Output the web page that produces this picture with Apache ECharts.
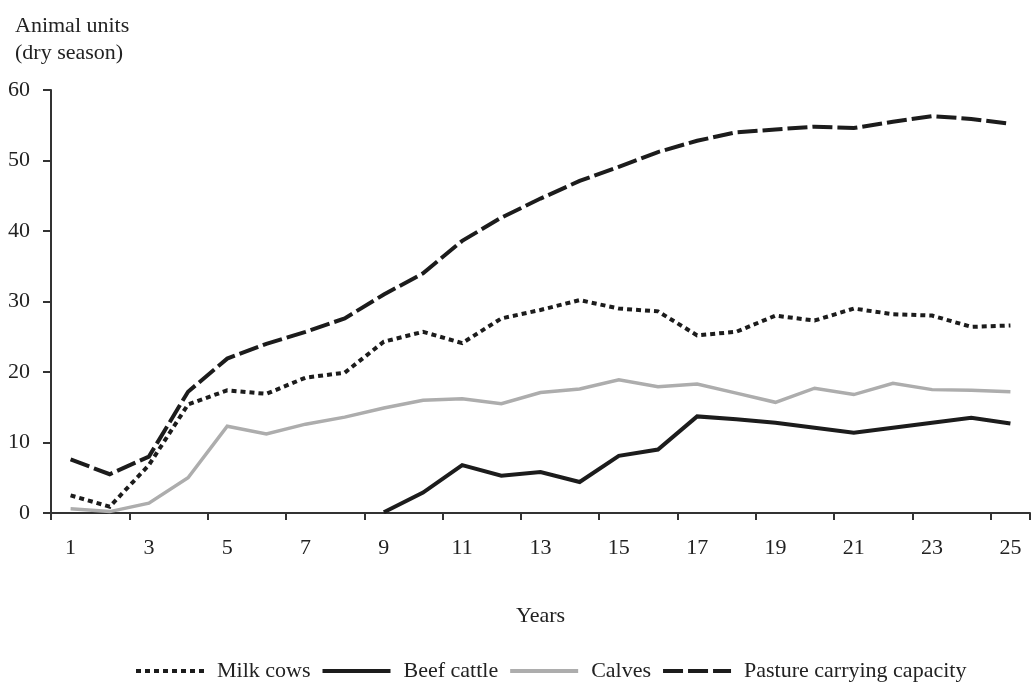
<!DOCTYPE html>
<html>
<head>
<meta charset="utf-8">
<script src="https://cdn.jsdelivr.net/npm/echarts@6/dist/echarts.min.js"></script>
<style>
html,body{margin:0;padding:0;background:#fff;}
#chart{width:1034px;height:689px;}
</style>
</head>
<body>
<div id="chart"></div>
<script>
const years = ['1','2','3','4','5','6','7','8','9','10','11','12','13','14','15','16','17','18','19','20','21','22','23','24','25'];
const milkCows = [2.5, 0.9, 6.8, 15.4, 17.4, 16.9, 19.2, 19.9, 24.3, 25.7, 24.1, 27.6, 28.8, 30.2, 29.0, 28.6, 25.2, 25.7, 28.0, 27.3, 29.0, 28.2, 28.0, 26.4, 26.6];
const beefCattle = [null, null, null, null, null, null, null, null, 0.1, 2.9, 6.8, 5.3, 5.8, 4.4, 8.1, 9.0, 13.7, 13.3, 12.8, 12.1, 11.4, 12.1, 12.8, 13.5, 12.7];
const calves = [0.6, 0.2, 1.4, 5.0, 12.3, 11.2, 12.6, 13.6, 14.9, 16.0, 16.2, 15.5, 17.1, 17.6, 18.9, 17.9, 18.3, 17.0, 15.7, 17.7, 16.8, 18.4, 17.5, 17.4, 17.2];
const pasture = [7.6, 5.5, 8.0, 17.2, 21.9, 24.0, 25.7, 27.6, 31.0, 34.0, 38.6, 41.9, 44.6, 47.1, 49.1, 51.2, 52.8, 54.0, 54.4, 54.8, 54.6, 55.5, 56.3, 55.9, 55.2];

const FONT = 'Liberation Serif';
const chart = echarts.init(document.getElementById('chart'));
function lineSeries(name, data, color, width, type) {
  return {
    name: name, type: 'line', data: data, symbol: 'none', connectNulls: false,
    lineStyle: {color: color, width: width, type: type, cap: 'butt', join: 'miter'},
    itemStyle: {color: color},
    emphasis: {disabled: true}, animation: false
  };
}
chart.setOption({
  animation: false,
  title: {
    text: 'Animal units\n(dry season)',
    left: 10, top: 8,
    textStyle: {fontFamily: FONT, fontSize: 22, fontWeight: 'normal', color: '#222', lineHeight: 27}
  },
  grid: {left: 51, right: 4, top: 90, bottom: 176},
  legend: {
    bottom: 2, left: 129,
    itemWidth: 68, itemHeight: 14, itemGap: 10,
    itemStyle: {opacity: 0},
    lineStyle: {width: 4},
    textStyle: {fontFamily: FONT, fontSize: 22, color: '#222', padding: [0, 0, 0, 8]},
    data: ['Milk cows', 'Beef cattle', 'Calves', 'Pasture carrying capacity']
  },
  xAxis: {
    type: 'category', data: years, boundaryGap: true,
    name: 'Years', nameLocation: 'middle', nameGap: 92,
    nameTextStyle: {fontFamily: FONT, fontSize: 22, color: '#222'},
    axisLine: {lineStyle: {color: '#333', width: 2}},
    axisTick: {show: true, interval: 1, length: 7, lineStyle: {color: '#333', width: 2}},
    axisLabel: {interval: 1, margin: 24, fontFamily: FONT, fontSize: 22, color: '#222'},
    splitLine: {show: false}
  },
  yAxis: {
    type: 'value', min: 0, max: 60, interval: 10,
    axisLine: {show: true, lineStyle: {color: '#333', width: 2}},
    axisTick: {show: true, length: 8, lineStyle: {color: '#333', width: 2}},
    axisLabel: {margin: 21, fontFamily: FONT, fontSize: 22, color: '#222'},
    splitLine: {show: false}
  },
  series: [
    lineSeries('Milk cows', milkCows, '#1c1c1c', 4, [5, 4]),
    lineSeries('Beef cattle', beefCattle, '#1c1c1c', 4, 'solid'),
    lineSeries('Calves', calves, '#adadad', 3.5, 'solid'),
    lineSeries('Pasture carrying capacity', pasture, '#1c1c1c', 4, [20, 5])
  ]
});
</script>
</body>
</html>
